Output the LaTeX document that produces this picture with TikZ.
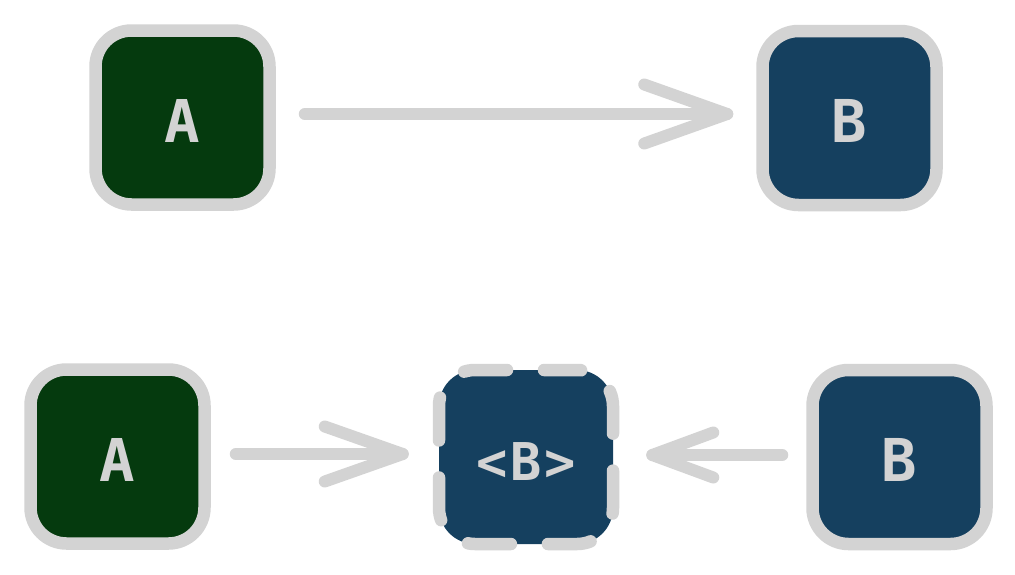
\documentclass[tikz,border=0pt]{standalone}
\usepackage{fontspec}
\setmonofont{DejaVu Sans Mono}
\usetikzlibrary{calc}
\definecolor{edgegray}{HTML}{D3D3D3}
\definecolor{gfill}{HTML}{053A0E}
\definecolor{bfill}{HTML}{15405F}
\begin{document}
\begin{tikzpicture}[x=1pt,y=-1pt,
  box/.style={rectangle, rounded corners=36pt, minimum width=174pt, minimum height=174pt,
    line width=12.5pt, draw=edgegray, text=edgegray, inner sep=0pt,
    text height=49pt, text depth=0pt,
    font=\ttfamily\bfseries\fontsize{59}{59}\selectfont},
  gbox/.style={box, fill=gfill},
  bbox/.style={box, fill=bfill},
  dbox/.style={bbox, dash pattern=on 43pt off 37pt, dash phase=10pt, line cap=round,
    text height=47.5pt, font=\ttfamily\bfseries\fontsize{52}{52}\selectfont},
  conn/.style={draw=edgegray, line width=12pt, line cap=round, line join=round}]
\useasboundingbox (0,0) rectangle (1015,574);
\node[gbox] (a1) at (182.5,117.5) {A};
\node[bbox] (b1) at (849.5,118) {B};
\node[gbox] (a2) at (117.5,456.5) {A};
\node[dbox] (c)  at (526,457) {<\kern3.5pt B\kern2.5pt>};
\node[bbox] (b2) at (899.5,457) {B};
% top connector
\path ($(a1.east)+(29,-3.5)$) coordinate (s1) ($(b1.west)+(-29,-4)$) coordinate (t1);
\draw[conn] (s1) -- (t1);
\draw[conn] ($(t1)+(-83,-29.5)$) -- (t1) -- ($(t1)+(-83,29.5)$);
% bottom left connector
\path ($(a2.east)+(25,-2.5)$) coordinate (s2) ($(c.west)+(-30,-3)$) coordinate (t2);
\draw[conn] (s2) -- (t2);
\draw[conn] ($(t2)+(-78,-27.5)$) -- (t2) -- ($(t2)+(-78,27.5)$);
% bottom right connector
\path ($(b2.west)+(-24,-2)$) coordinate (s3) ($(c.east)+(33,-2)$) coordinate (t3);
\draw[conn] (s3) -- (t3);
\draw[conn] ($(t3)+(61,-22.5)$) -- (t3) -- ($(t3)+(61,22.5)$);
\end{tikzpicture}
\end{document}
